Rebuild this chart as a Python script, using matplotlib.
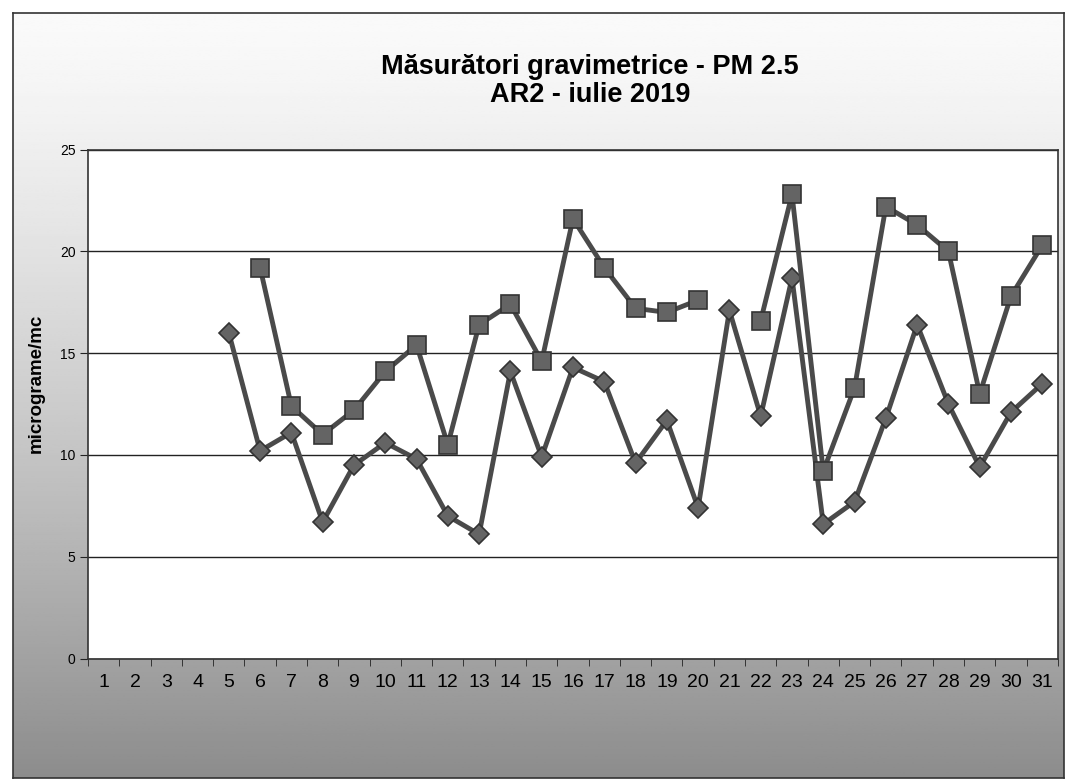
import matplotlib
matplotlib.use('Agg')
import matplotlib.pyplot as plt
import numpy as np

plt.rcParams['font.family'] = ['Liberation Sans', 'DejaVu Sans']

# days of July 2019
days = list(range(1, 32))

# gravimetric PM2.5 (squares) - None where there is no measurement
pm_squares = [None, None, None, None, None, 19.2, 12.4, 11.0, 12.2, 14.1,
              15.4, 10.5, 16.4, 17.4, 14.6, 21.6, 19.2, 17.2, 17.0, 17.6,
              None, 16.6, 22.8, 9.2, 13.3, 22.2, 21.3, 20.0, 13.0, 17.8,
              20.3]

# second series (diamonds)
pm_diamonds = [None, None, None, None, 16.0, 10.2, 11.1, 6.7, 9.5, 10.6,
               9.8, 7.0, 6.1, 14.1, 9.9, 14.3, 13.6, 9.6, 11.7, 7.4,
               17.1, 11.9, 18.7, 6.6, 7.7, 11.8, 16.4, 12.5, 9.4, 12.1,
               13.5]

y_ticks = [0, 5, 10, 15, 20, 25]

sq = np.array([np.nan if v is None else v for v in pm_squares])
dm = np.array([np.nan if v is None else v for v in pm_diamonds])

fig = plt.figure(figsize=(10.67, 7.83), dpi=100, facecolor='white')

# chart area with vertical gray gradient
bg = fig.add_axes([0.012, 0.007, 0.985, 0.977], zorder=-5)
t = np.linspace(0, 1, 300)[:, None]
grad = 0.98 - 0.43 * t ** 1.3
bg.imshow(np.repeat(grad, 2, axis=1), cmap='gray', vmin=0, vmax=1,
          aspect='auto', extent=[0, 1, 0, 1], origin='upper')
bg.set_xticks([])
bg.set_yticks([])
for s in bg.spines.values():
    s.set_color('#333333')
    s.set_linewidth(1.2)

ax = fig.add_axes([0.0825, 0.159, 0.909, 0.65])
ax.set_facecolor('white')

line_kw = dict(color='#4a4a4a', linewidth=3.5, markeredgecolor='#333333',
               markerfacecolor='#646464', markeredgewidth=1.2)
ax.plot(days, dm, marker='D', markersize=10, zorder=3, **line_kw)
ax.plot(days, sq, marker='s', markersize=13, zorder=4, **line_kw)

ax.set_xlim(0.5, 31.5)
ax.set_ylim(0, 25)
ax.set_yticks(y_ticks)
ax.set_yticklabels([str(v) for v in y_ticks], fontsize=10)
ax.yaxis.grid(True, color='#222222', linewidth=1.0)
ax.set_axisbelow(True)

ax.set_xticks(days)
ax.set_xticklabels([str(d) for d in days], fontsize=14)
ax.set_xticks(np.arange(0.5, 32, 1), minor=True)
ax.tick_params(axis='x', which='major', length=0, pad=11)
ax.tick_params(axis='x', which='minor', length=5, direction='out', color='#222222')
ax.tick_params(axis='y', length=6, direction='out', color='#222222', pad=3)

for s in ax.spines.values():
    s.set_color('#333333')
    s.set_linewidth(1.2)

ax.set_ylabel('micrograme/mc', fontsize=13.5, fontweight='bold', labelpad=10)
ax.yaxis.set_label_coords(-0.045, 0.54)

fig.text(0.553, 0.897, 'Măsurători gravimetrice - PM 2.5\nAR2 - iulie 2019',
         ha='center', va='center', fontsize=19.5, fontweight='bold',
         linespacing=1.1)

fig.savefig('out.png', dpi=100, facecolor='white')
